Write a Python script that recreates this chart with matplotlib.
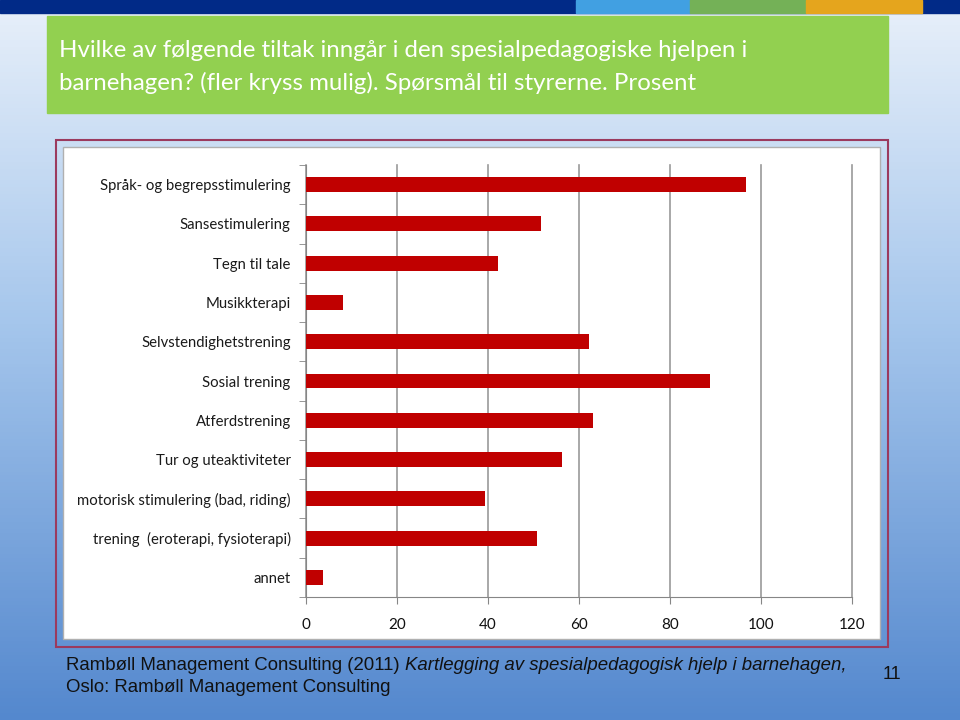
import matplotlib
matplotlib.use('Agg')
import matplotlib.pyplot as plt
import numpy as np
from matplotlib.patches import Rectangle

# Données (pourcentages)
tiltak = [
    'Språk- og begrepsstimulering',
    'Sansestimulering',
    'Tegn til tale',
    'Musikkterapi',
    'Selvstendighetstrening',
    'Sosial trening',
    'Atferdstrening',
    'Tur og uteaktiviteter',
    'motorisk stimulering (bad, riding)',
    'trening  (eroterapi, fysioterapi)',
    'annet',
]
prosent = [96.7, 51.7, 42.1, 8.1, 62.3, 88.8, 63.1, 56.2, 39.3, 50.7, 3.8]
x_ticks = [0, 20, 40, 60, 80, 100, 120]

tittel = ('Hvilke av følgende tiltak inngår i den spesialpedagogiske hjelpen i\n'
          'barnehagen? (fler kryss mulig). Spørsmål til styrerne. Prosent')
kilde_1 = 'Rambøll Management Consulting (2011) '
kilde_1_kursiv = 'Kartlegging av spesialpedagogisk hjelp i barnehagen,'
kilde_2 = 'Oslo: Rambøll Management Consulting'
side_nr = '11'

W, H = 960, 720
fig = plt.figure(figsize=(9.6, 7.2), dpi=100)

# Fond du diapo (dégradé ciel)
bg = fig.add_axes([0, 0, 1, 1])
bg.set_xlim(0, W)
bg.set_ylim(H, 0)
bg.axis('off')
t = np.linspace(0, 1, 200)[:, None]
top = np.array([232, 240, 250]) / 255
mid = np.array([165, 198, 236]) / 255
bot = np.array([84, 136, 206]) / 255
grad = np.where(t < 0.45, top + (mid - top) * (t / 0.45), mid + (bot - mid) * ((t - 0.45) / 0.55))
grad = np.repeat(grad[:, None, :], 2, axis=1)
bg.imshow(grad, extent=[0, W, H, 0], aspect='auto', zorder=0)

# Bandeau du haut
bg.add_patch(Rectangle((0, 0), W, 13, color='#012a87', zorder=1))
bg.add_patch(Rectangle((576, 0), 114, 13, color='#41a0e2', zorder=2))
bg.add_patch(Rectangle((690, 0), 116, 13, color='#74b157', zorder=2))
bg.add_patch(Rectangle((806, 0), 116, 13, color='#e5a51d', zorder=2))

# Boîte du titre
bg.add_patch(Rectangle((47, 16), 841, 97, color='#92d050', zorder=1))
bg.text(59, 57, tittel.split('\n')[0], color='white', fontsize=17.3, family='Lato',
        va='baseline', ha='left', zorder=3)
bg.text(59, 90, tittel.split('\n')[1], color='white', fontsize=17.3, family='Lato',
        va='baseline', ha='left', zorder=3)

# Cadre du graphique
bg.add_patch(Rectangle((56, 140), 832, 507, fill=False, edgecolor='#9b3a5e', lw=1.5, zorder=1))
bg.add_patch(Rectangle((63, 147), 817, 492, facecolor='white', edgecolor='#b0b0b0', lw=1, zorder=1))

# Source et numéro de page
fs_kilde = 13.4
t1 = bg.text(66, 670, kilde_1, fontsize=fs_kilde, family='Liberation Sans', color='#111111', va='baseline')
bg.text(66, 692, kilde_2, fontsize=fs_kilde, family='Liberation Sans', color='#111111', va='baseline')
fig.canvas.draw()
r = t1.get_window_extent()
bg.text(r.x1, H - 670, kilde_1_kursiv, fontsize=fs_kilde, family='Liberation Sans',
        style='italic', color='#111111', va='baseline', transform=None)
bg.text(892, 679, side_nr, fontsize=13, family='Liberation Sans', color='#111111',
        va='baseline', ha='center')

# Graphique à barres horizontales
ax = fig.add_axes([306 / W, 1 - 597 / H, (852 - 306) / W, (597 - 165) / H])
pos = np.arange(len(tiltak))
ax.barh(pos, prosent, height=0.38, color='#c00000', zorder=3)
ax.set_ylim(len(tiltak) - 0.5, -0.5)
ax.set_xlim(0, 120)
ax.set_xticks(x_ticks)
ax.set_xticklabels([str(v) for v in x_ticks], fontsize=11, family='Lato', color='#111111')
ax.set_yticks(pos)
ax.set_yticklabels(tiltak, fontsize=10.7, family='Lato', color='#1a1a1a')
ax.set_yticks(np.arange(len(tiltak) + 1) - 0.5, minor=True)
ax.tick_params(axis='y', which='major', length=0, pad=11)
ax.tick_params(axis='y', which='minor', length=5, color='#868686', direction='out')
ax.tick_params(axis='x', length=5, color='#868686', direction='out', pad=10)
ax.grid(axis='x', color='#9a9a9a', lw=1.2, zorder=0)
for g in ax.get_xgridlines():
    g.set_clip_on(False)
for s in ['top', 'right']:
    ax.spines[s].set_visible(False)
for s in ['left', 'bottom']:
    ax.spines[s].set_color('#868686')
ax.set_facecolor('none')

fig.savefig('out.png', dpi=100)
